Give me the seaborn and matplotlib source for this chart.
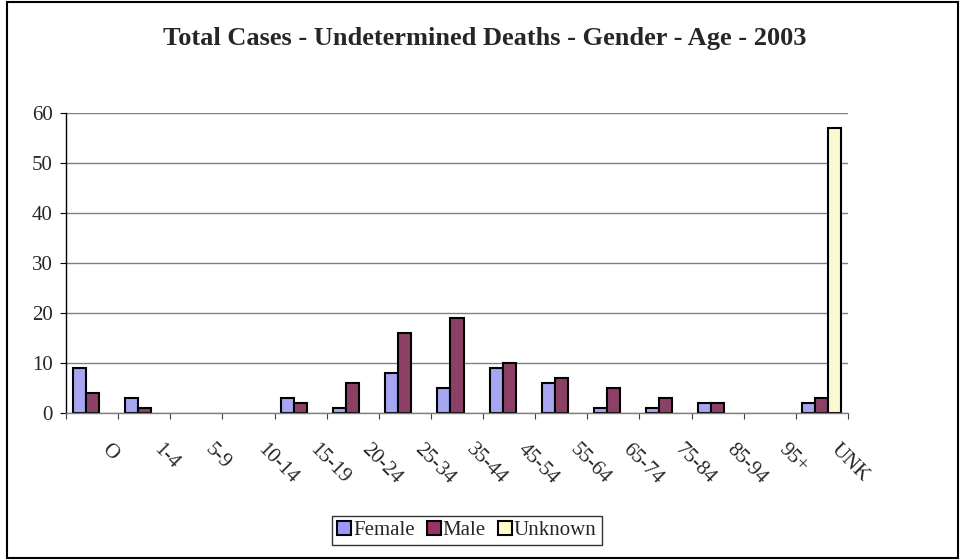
import pandas as pd
import seaborn as sns
import matplotlib.pyplot as plt
from matplotlib.patches import Patch, Rectangle
from matplotlib.transforms import ScaledTranslation

# data
ages = ['O', '1-4', '5-9', '10-14', '15-19', '20-24', '25-34', '35-44',
        '45-54', '55-64', '65-74', '75-84', '85-94', '95+', 'UNK']
female = [9, 3, 0, 0, 3, 1, 8, 5, 9, 6, 1, 1, 2, 0, 2]
male = [4, 1, 0, 0, 2, 6, 16, 19, 10, 7, 5, 3, 2, 0, 3]
unknown = [0, 0, 0, 0, 0, 0, 0, 0, 0, 0, 0, 0, 0, 0, 57]
sexes = ['Female', 'Male', 'Unknown']
colors = ['#9999FF', '#993366', '#FFFFCC']

df = pd.DataFrame({'age': ages * 3,
                   'sex': ['Female'] * 15 + ['Male'] * 15 + ['Unknown'] * 15,
                   'count': female + male + unknown})
# excel doesn't draw zero bars
df = df[df['count'] > 0]

sns.set_style('white')
plt.rcParams['font.family'] = ['Liberation Serif', 'DejaVu Serif']

fig = plt.figure(figsize=(9.61, 5.6), dpi=100)
ax = fig.add_axes([66 / 961, 1 - 413 / 560, (848 - 66) / 961, 300 / 560])

sns.barplot(data=df, x='age', y='count', hue='sex', order=ages, hue_order=sexes,
            palette=colors, width=0.75, edgecolor='black', linewidth=1.5,
            errorbar=None, legend=False, ax=ax)

ax.set_xlim(-0.5, 14.5)
ax.set_ylim(0, 60)
ax.set_yticks(range(0, 61, 10))
ax.yaxis.grid(True, color='#808080', linewidth=1)
ax.set_axisbelow(True)
ax.set_xlabel('')
ax.set_ylabel('')
for s in ['top', 'right']:
    ax.spines[s].set_visible(False)
ax.spines['left'].set_color('black')
ax.spines['left'].set_linewidth(1)
ax.spines['bottom'].set_color('#808080')
ax.spines['bottom'].set_linewidth(1)

ax.tick_params(axis='y', labelsize=15, length=4.5, width=0.8, color='black',
               pad=5, left=True, direction='out')
ax.set_xticks(range(15))
ax.set_xticks([i - 0.5 for i in range(16)], minor=True)
ax.tick_params(axis='x', which='major', length=0, pad=24, labelsize=15)
ax.tick_params(axis='x', which='minor', length=4.5, width=0.8, color='#404040',
               bottom=True, direction='out')
ax.set_xticklabels(ages, rotation=-45, ha='left', va='center', rotation_mode='anchor')
offset = ScaledTranslation(0.12, 0, fig.dpi_scale_trans)
for lbl in ax.get_xticklabels():
    lbl.set_transform(lbl.get_transform() + offset)

fig.text(485 / 961, 1 - 45 / 560, 'Total Cases - Undetermined Deaths - Gender - Age - 2003',
         ha='center', va='baseline', fontsize=19, fontweight='bold')

handles = [Patch(facecolor=c, edgecolor='black', linewidth=1.5) for c in colors]
leg = fig.legend(handles, sexes, loc='center', bbox_to_anchor=(467 / 961, 1 - 530.5 / 560),
                 ncol=3, fontsize=15, frameon=True, fancybox=False, shadow=False,
                 handlelength=0.65, handleheight=0.65, handletextpad=0.1,
                 columnspacing=0.6, borderpad=0.25, borderaxespad=0)
leg.get_frame().set_edgecolor('black')
leg.get_frame().set_linewidth(1)

# chart area border
fig.patches.append(Rectangle((7 / 961, 2 / 560), 951 / 961, 556 / 560,
                             transform=fig.transFigure, fill=False,
                             edgecolor='black', linewidth=1.5))

fig.savefig('out.png', dpi=100)
